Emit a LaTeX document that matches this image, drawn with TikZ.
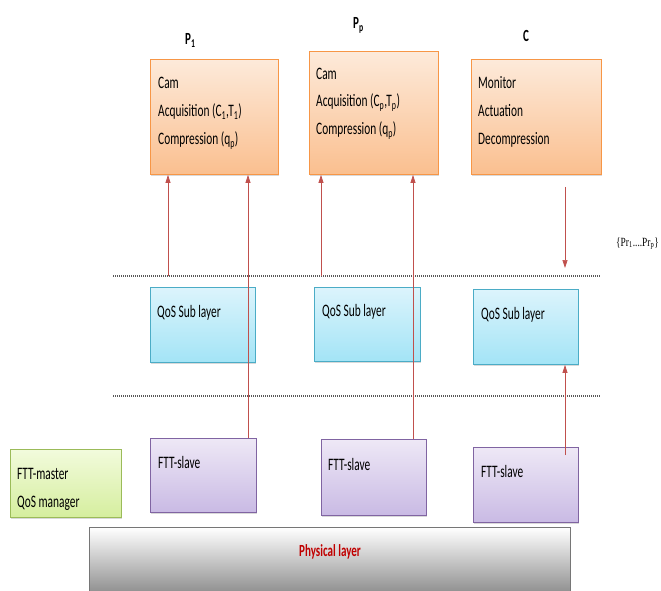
\documentclass[tikz,border=0pt]{standalone}
\usepackage{fontspec}
\setmainfont{Carlito}[FakeStretch=0.65]
\newfontfamily\prfont{Liberation Serif}[FakeStretch=0.75]
\usetikzlibrary{shadows,arrows.meta}
\definecolor{orT}{HTML}{FDEADA}
\definecolor{orB}{HTML}{FABF8F}
\definecolor{orD}{HTML}{F79646}
\definecolor{blT}{HTML}{DCF4FC}
\definecolor{blB}{HTML}{A3E4F6}
\definecolor{blD}{HTML}{4BACC6}
\definecolor{puT}{HTML}{EEE8F6}
\definecolor{puB}{HTML}{C9BAE4}
\definecolor{puD}{HTML}{8064A2}
\definecolor{grT}{HTML}{F2FBDC}
\definecolor{grB}{HTML}{D5EE9E}
\definecolor{grD}{HTML}{9BBB59}
\definecolor{phB}{HTML}{8E8E8E}
\definecolor{phD}{HTML}{767676}
\definecolor{phR}{HTML}{C00000}
\definecolor{arC}{HTML}{C0504D}
\begin{document}
\begin{tikzpicture}[x=1pt,y=-1pt,
  box/.style={draw, line width=0.9pt, anchor=north west, inner sep=0pt,
    drop shadow={shadow xshift=1pt, shadow yshift=-2pt, opacity=0.3}},
  orbox/.style={box, draw=orD, top color=orT, bottom color=orB},
  blbox/.style={box, draw=blD, top color=blT, bottom color=blB},
  pubox/.style={box, draw=puD, top color=puT, bottom color=puB},
  grbox/.style={box, draw=grD, top color=grT, bottom color=grB},
  txt/.style={anchor=base west, inner sep=0pt, font=\fontsize{17.5}{20}\selectfont},
  lbl/.style={anchor=base west, inner sep=0pt, font=\fontsize{17}{20}\selectfont\bfseries},
  arr/.style={draw=arC, line width=0.7pt, -{Triangle[length=8pt,width=5pt]}},
  dotline/.style={draw=black!65, line width=1.3pt, dash pattern=on 1pt off 1pt}]
\useasboundingbox (0,0) rectangle (661,591);

% top boxes
\node[orbox, minimum width=128pt, minimum height=115pt] (p1) at (150,59) {};
\node[orbox, minimum width=129pt, minimum height=123pt] (pp) at (309,51) {};
\node[orbox, minimum width=130pt, minimum height=115pt] (c) at (471,59) {};

\node[lbl] (lp1) at (185,45) {P\textsubscript{1}};
\node[lbl] (lpp) at (353,29) {P\textsubscript{p}};
\node[lbl] (lc) at (523,42) {C};

\node[txt] (p1a) at (158,89) {Cam};
\node[txt] (p1b) at (158,117) {Acquisition (C\textsubscript{1},T\textsubscript{1})};
\node[txt] (p1c) at (158,145) {Compression (q\textsubscript{p})};
\node[txt] (ppa) at (316,80) {Cam};
\node[txt] (ppb) at (316,107) {Acquisition (C\textsubscript{p},T\textsubscript{p})};
\node[txt] (ppc) at (316,135) {Compression (q\textsubscript{p})};
\node[txt] (ca) at (478,89) {Monitor};
\node[txt] (cb) at (478,117) {Actuation};
\node[txt] (cc) at (478,144) {Decompression};

\node[anchor=base west, inner sep=0pt, font=\prfont\fontsize{12.5}{15}\selectfont] (pr) at (616,246) {\{Pr\textsubscript{1}....Pr\textsubscript{p}\}};

% dotted lines
\coordinate (d1l) at (113,276);
\coordinate (d1r) at (600,276);
\coordinate (d2l) at (113,396);
\coordinate (d2r) at (600,396);
\draw[dotline] (d1l) -- (d1r);
\draw[dotline] (d2l) -- (d2r);

% QoS boxes
\node[blbox, minimum width=105pt, minimum height=75pt] (q1) at (150,287) {};
\node[blbox, minimum width=106pt, minimum height=74pt] (q2) at (314,287) {};
\node[blbox, minimum width=105pt, minimum height=75pt] (q3) at (473,289) {};
\node[txt] (q1t) at (157,317) {QoS Sub layer};
\node[txt] (q2t) at (322,316) {QoS Sub layer};
\node[txt] (q3t) at (481,319) {QoS Sub layer};

% FTT slaves
\node[pubox, minimum width=106pt, minimum height=74pt] (s1) at (150,438) {};
\node[pubox, minimum width=105pt, minimum height=76pt] (s2) at (321,439) {};
\node[pubox, minimum width=105pt, minimum height=75pt] (s3) at (473,447) {};
\node[txt] (s1t) at (158,468) {FTT-slave};
\node[txt] (s2t) at (328,470) {FTT-slave};
\node[txt] (s3t) at (481,477) {FTT-slave};

% master
\node[grbox, minimum width=111pt, minimum height=68pt] (m) at (10,449) {};
\node[txt] (ma) at (17,479) {FTT-master};
\node[txt] (mb) at (17,507) {QoS manager};

% physical layer
\node[box, draw=phD, top color=white, bottom color=phB, minimum width=481pt, minimum height=66pt] (ph) at (89,527) {};
\node[anchor=base, inner sep=0pt, text=phR, font=\fontsize{17}{20}\selectfont\bfseries] (pht) at (330,556) {Physical layer};

% arrows
\coordinate (ax1) at (168,0);
\coordinate (ax2) at (248,0);
\coordinate (ax3) at (321,0);
\coordinate (ax4) at (413,0);
\coordinate (ax5) at (565,0);
\draw[arr] (ax1 |- d1l) -- (ax1 |- p1.south);
\draw[arr] (ax2 |- s1.north) -- (ax2 |- p1.south);
\draw[arr] (ax3 |- d1l) -- (ax3 |- pp.south);
\draw[arr] (ax4 |- s2.north) -- (ax4 |- pp.south);
\draw[arr] ([yshift=-12pt]ax5 |- c.south) -- ([yshift=8pt]ax5 |- d1l);
\draw[arr] ([yshift=-8pt]ax5 |- s3.north) -- (ax5 |- q3.south);
\end{tikzpicture}
\end{document}
